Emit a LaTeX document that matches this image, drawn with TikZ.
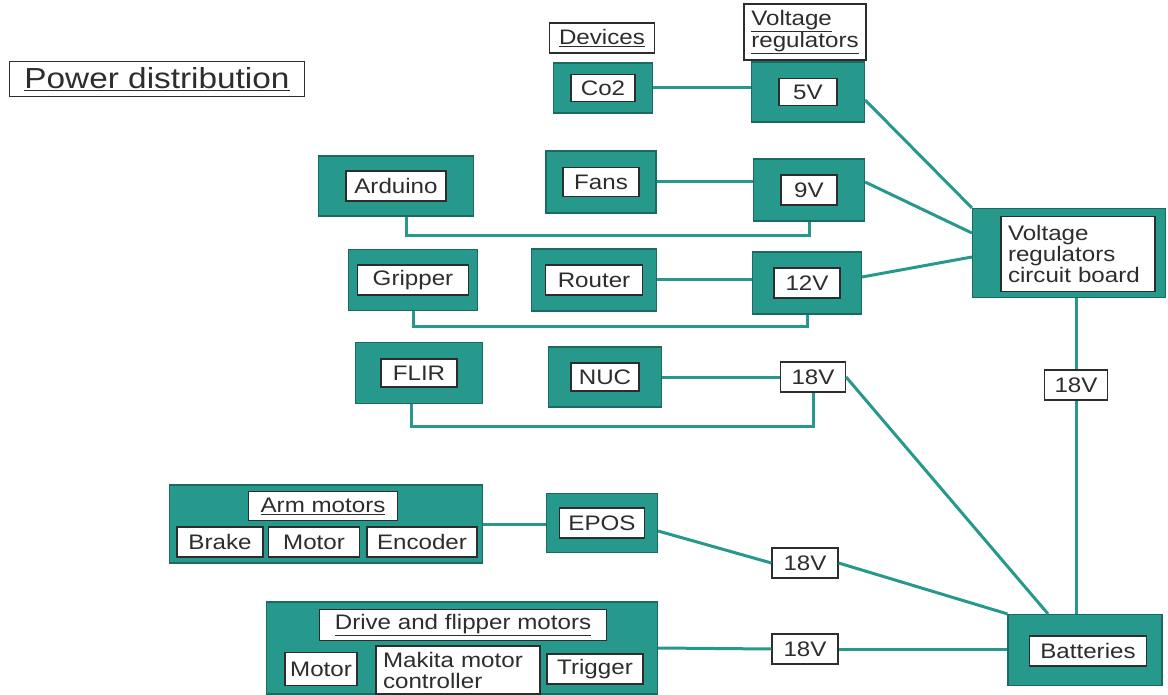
\documentclass[tikz,border=0pt]{standalone}
\usepackage{fontspec}
\setmainfont[FakeStretch=1.15]{Liberation Sans}
\usetikzlibrary{positioning}
\definecolor{tealfill}{RGB}{38,152,140}
\definecolor{tealedge}{RGB}{28,105,98}
\definecolor{inktext}{RGB}{45,45,45}

\begin{document}
\begin{tikzpicture}[x=1pt,y=-1pt,
  tealbox/.style={draw=tealedge,line width=1.2pt,fill=tealfill,inner sep=0pt},
  whitebox/.style={draw=inktext,line width=1.2pt,fill=white,text=inktext,inner sep=0pt,
    font=\fontsize{21}{21}\selectfont},
  wire/.style={draw=tealfill,line width=3pt}]
\useasboundingbox (0,0) rectangle (1168,695);
\node[whitebox,minimum width=295,minimum height=35,font=\fontsize{29}{29}\selectfont] (title) at (157,79) {\underline{Power distribution}};
\node[whitebox,minimum width=105,minimum height=30] (devices) at (602,38) {\underline{Devices}};
\node[whitebox,minimum width=122,minimum height=56,align=left] (reglabel) at (805,32) {\underline{Voltage}\\\underline{regulators}};
\node[tealbox,minimum width=99,minimum height=50] (co2) at (603,88) {};
\node[whitebox,minimum width=64,minimum height=27] (co2t) at (co2) {Co2};
\node[tealbox,minimum width=113,minimum height=60] (v5) at (808,92) {};
\node[whitebox,minimum width=58,minimum height=27] (v5t) at (v5) {5V};
\node[tealbox,minimum width=155,minimum height=60] (arduino) at (396,186) {};
\node[whitebox,minimum width=100,minimum height=30] (arduinot) at (arduino) {Arduino};
\node[tealbox,minimum width=110,minimum height=62] (fans) at (601,182) {};
\node[whitebox,minimum width=76,minimum height=29] (fanst) at (fans) {Fans};
\node[tealbox,minimum width=111,minimum height=62] (v9) at (809,190) {};
\node[whitebox,minimum width=56,minimum height=30] (v9t) at (v9) {9V};
\node[tealbox,minimum width=129,minimum height=61] (gripper) at (413,280) {};
\node[whitebox,minimum width=111,minimum height=30] (grippert) at (gripper) {Gripper};
\node[tealbox,minimum width=125,minimum height=62] (router) at (594,280) {};
\node[whitebox,minimum width=97,minimum height=30] (routert) at (router) {Router};
\node[tealbox,minimum width=109,minimum height=62] (v12) at (807,283) {};
\node[whitebox,minimum width=66,minimum height=30] (v12t) at (v12) {12V};
\node[tealbox,minimum width=127,minimum height=61] (flir) at (419,373) {};
\node[whitebox,minimum width=76,minimum height=28] (flirt) at (flir) {FLIR};
\node[tealbox,minimum width=113,minimum height=60] (nuc) at (605,377) {};
\node[whitebox,minimum width=68,minimum height=28] (nuct) at (nuc) {NUC};
\node[whitebox,minimum width=65,minimum height=30] (v18a) at (813,377) {18V};
\node[tealbox,minimum width=193,minimum height=89] (board) at (1069,253) {};
\node[whitebox,minimum width=154,minimum height=75,align=left,text width=140] (boardt) at (1078,254) {Voltage\\regulators\\circuit board};
\node[whitebox,minimum width=63,minimum height=30] (v18d) at (1076,385) {18V};
\node[tealbox,minimum width=154,minimum height=71] (batteries) at (1085,650) {};
\node[whitebox,minimum width=117,minimum height=30] (batteriest) at (1088,651) {Batteries};
\node[tealbox,minimum width=313,minimum height=78] (arm) at (326,524) {};
\node[whitebox,minimum width=149,minimum height=29] (armt) at (323,506) {\underline{Arm motors}};
\node[whitebox,minimum width=86,minimum height=30] (brake) at (220,542) {Brake};
\node[whitebox,minimum width=91,minimum height=30] (armmotor) at (314,542) {Motor};
\node[whitebox,minimum width=110,minimum height=30] (encoder) at (422,542) {Encoder};
\node[tealbox,minimum width=111,minimum height=59] (epos) at (602,523) {};
\node[whitebox,minimum width=85,minimum height=30] (epost) at (epos) {EPOS};
\node[whitebox,minimum width=66,minimum height=30] (v18b) at (805,563) {18V};
\node[tealbox,minimum width=391,minimum height=92] (drive) at (462,648) {};
\node[whitebox,minimum width=287,minimum height=31] (drivet) at (463,625) {\underline{Drive and flipper motors}};
\node[whitebox,minimum width=72,minimum height=33] (drivemotor) at (321,669) {Motor};
\node[whitebox,minimum width=164,minimum height=48,align=left,text width=150] (makita) at (458,670) {Makita motor\\controller};
\node[whitebox,minimum width=96,minimum height=30] (trigger) at (595,669) {Trigger};
\node[whitebox,minimum width=66,minimum height=30] (v18c) at (805,649) {18V};
\draw[wire] (co2.east) -- (co2.east -| v5.west);
\draw[wire] (fans.east) -- (fans.east -| v9.west);
\draw[wire] (router.east) -- (router.east -| v12.west);
\draw[wire] (nuc.east) -- (v18a.west);
\draw[wire] ([xshift=10pt]arduino.south) -- ++(0,19) -| (v9.south);
\draw[wire] (gripper.south) -- ++(0,15) -| (v12.south);
\draw[wire] ([xshift=-8pt]flir.south) -- ++(0,22) -| (v18a.south);
\draw[wire] ([yshift=-8pt]v5.east) -- (board.north west);
\draw[wire] ([yshift=8pt]v9.east) -- ([yshift=20pt]board.west);
\draw[wire] ([yshift=6pt]v12.east) -- ([yshift=-4pt]board.west);
\draw[wire] (board.south -| v18d) -- (v18d);
\draw[wire] (v18d) -- (v18d |- batteries.north);
\draw[wire] (v18a.east) -- ([xshift=-37pt]batteries.north);
\draw[wire] (arm.east) -- (arm.east -| epos.west);
\draw[wire] ([yshift=-8pt]epos.east) -- (v18b.west);
\draw[wire] (v18b.east) -- (batteries.north west);
\draw[wire] (drive.east) -- (v18c.west);
\draw[wire] (v18c.east) -- (v18c.east -| batteries.west);
\end{tikzpicture}
\end{document}
